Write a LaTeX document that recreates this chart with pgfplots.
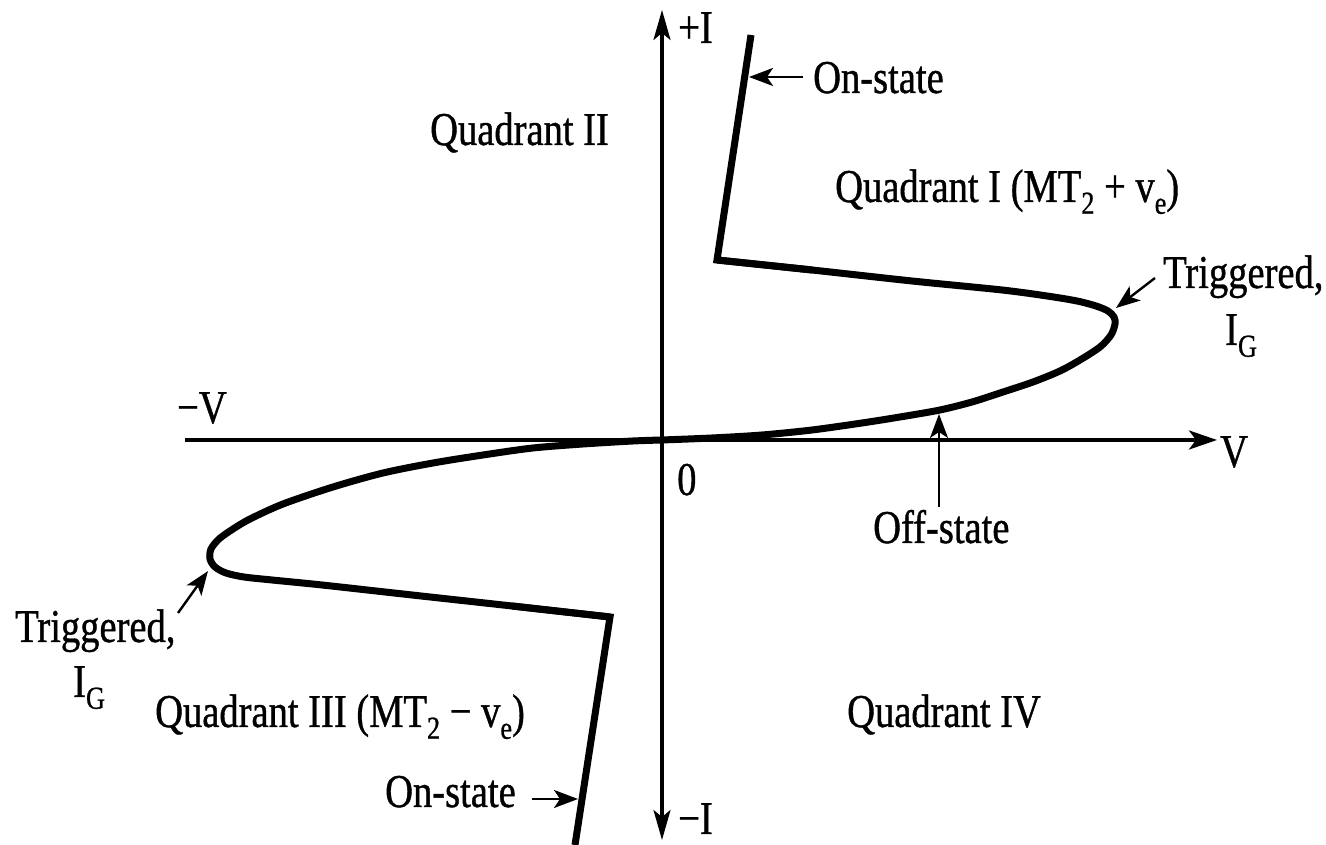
\documentclass[border=0pt]{standalone}
\usepackage{pgfplots}
\pgfplotsset{compat=1.18}
\usetikzlibrary{arrows.meta}
\usepackage{fontspec}
\setmainfont[FakeStretch=0.82,FakeBold=0.8]{Liberation Serif}
\newcommand\bigf{\fontsize{47pt}{56pt}\selectfont}
\newcommand\sub[1]{\raisebox{-0.25em}{\fontsize{32pt}{34pt}\selectfont #1}}
\tikzset{lab/.style={inner sep=0pt, anchor=base west, font=\bigf}}
\begin{document}
\begin{tikzpicture}
\begin{axis}[
  x=1pt, y=1pt,
  xmin=-662, xmax=664, ymin=-405, ymax=440,
  hide axis, clip=false,
]
\coordinate (bl) at (rel axis cs:0,0);
\coordinate (tr) at (rel axis cs:1,1);
% axes
\addplot[black, no markers, line width=3.2pt, {Stealth[length=30pt,width=17pt,inset=7pt]}-{Stealth[length=30pt,width=17pt,inset=7pt]}]
  coordinates {(0,-400) (0,430)};
\addplot[black, no markers, line width=3.2pt, -{Stealth[length=28pt,width=19pt,inset=7pt]}]
  coordinates {(-477,0) (555,0)};
% Quadrant I
\addplot[black, no markers, line width=7pt, line join=miter]
  coordinates {(89,405) (55,180) (150,170)};
\addplot[black, no markers, line width=7pt, smooth]
  coordinates {(55,180) (150,170) (250,159) (340,150) (385,144) (415,139) (434,134) (446,129) (452,123) (453,116) (449,105) (438,93) (418,80) (398,69) (371,58) (338,47) (310,38) (278,30) (238,23) (200,17) (150,10) (100,5) (50,2) (0,0)};
% Quadrant III
\addplot[black, no markers, line width=7pt, line join=miter]
  coordinates {(-87,-405) (-52,-177) (-150,-166)};
\addplot[black, no markers, line width=7pt, smooth]
  coordinates {(-52,-177) (-150,-166) (-250,-155) (-340,-145) (-390,-140) (-418,-137) (-436,-133) (-447,-127) (-452,-119) (-451,-109) (-443,-99) (-429,-89) (-412,-79) (-379,-64) (-329,-47) (-279,-33) (-229,-23) (-179,-15) (-129,-8) (-79,-4) (-29,-1) (0,0)};
% annotation arrows
\addplot[black, no markers, line width=2.4pt, -{Stealth[length=24pt,width=18pt,inset=6pt]}]
  coordinates {(141,363) (87,363)};
\addplot[black, no markers, line width=2.4pt, -{Stealth[length=24pt,width=18pt,inset=6pt]}]
  coordinates {(493,162) (454,132)};
\addplot[black, no markers, line width=2.4pt, -{Stealth[length=24pt,width=18pt,inset=6pt]}]
  coordinates {(277,-67) (277,26)};
\addplot[black, no markers, line width=2.4pt, -{Stealth[length=24pt,width=18pt,inset=6pt]}]
  coordinates {(-484,-173) (-454,-131)};
\addplot[black, no markers, line width=2.4pt, -{Stealth[length=24pt,width=18pt,inset=6pt]}]
  coordinates {(-130,-359) (-84,-359)};
% labels
\node[lab] at (axis cs:16,397) {+I};
\node[lab] at (axis cs:151,347) {On-state};
\node[lab] at (axis cs:-232,295) {Quadrant II};
\node[lab] at (axis cs:173,238) {Quadrant I (MT\sub{2} + v\sub{e})};
\node[lab] at (axis cs:501,152) {Triggered,};
\node[lab] at (axis cs:563,95) {I\sub{G}};
\node[lab] at (axis cs:-485,17) {−V};
\node[lab] at (axis cs:558,-27) {V};
\node[lab] at (axis cs:15,-55) {0};
\node[lab] at (axis cs:211,-103) {Off-state};
\node[lab] at (axis cs:-647,-202) {Triggered,};
\node[lab] at (axis cs:-589,-257) {I\sub{G}};
\node[lab] at (axis cs:-507,-287) {Quadrant III (MT\sub{2} − v\sub{e})};
\node[lab] at (axis cs:185,-287) {Quadrant IV};
\node[lab] at (axis cs:-277,-367) {On-state};
\node[lab] at (axis cs:16,-394) {−I};
\end{axis}
\pgfresetboundingbox
\path[use as bounding box] (bl) rectangle (tr);
\end{tikzpicture}
\end{document}
